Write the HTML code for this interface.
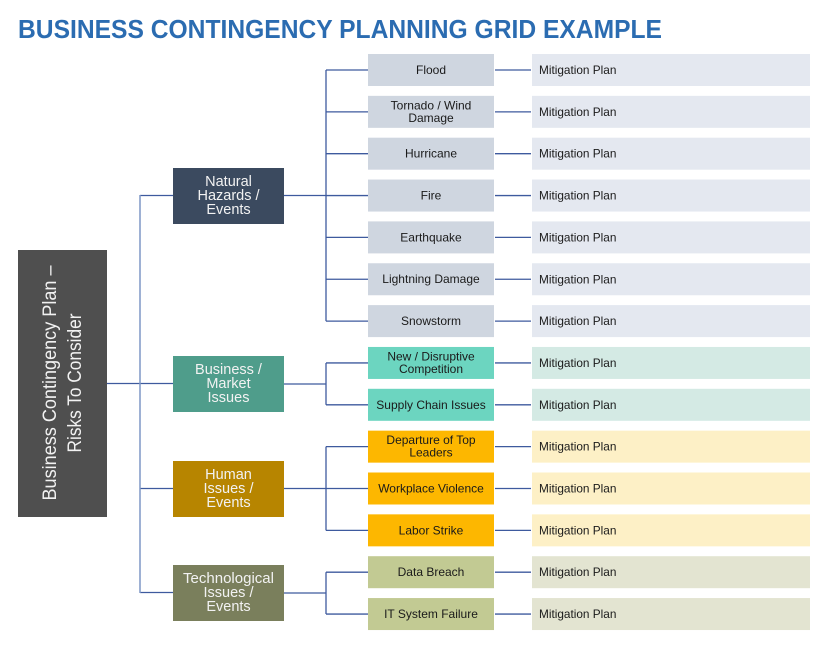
<!DOCTYPE html>
<html><head><meta charset="utf-8">
<style>
html,body{margin:0;padding:0;background:#fff;}
svg{display:block;}
text{font-family:"Liberation Sans",sans-serif;}
</style></head>
<body>
<svg width="831" height="656" viewBox="0 0 831 656" xmlns="http://www.w3.org/2000/svg">
<rect width="831" height="656" fill="#fff"/>
<text x="18" y="38" font-size="26" font-weight="bold" fill="#2b6cb1" textLength="644" lengthAdjust="spacingAndGlyphs">BUSINESS CONTINGENCY PLANNING GRID EXAMPLE</text>

<!-- root -->
<rect x="18" y="250" width="89" height="267" fill="#4f4f4f"/>
<text transform="translate(56,383) rotate(-90)" text-anchor="middle" font-size="19" fill="#f2f2f2" textLength="235" lengthAdjust="spacingAndGlyphs">Business Contingency Plan –</text>
<text transform="translate(81,383) rotate(-90)" text-anchor="middle" font-size="19" fill="#f2f2f2" textLength="139" lengthAdjust="spacingAndGlyphs">Risks To Consider</text>

<!-- root connectors -->
<g stroke="#3e5a9e" stroke-width="1.3" fill="none">
<line x1="107" y1="383.5" x2="173" y2="383.5"/>
<line x1="140" y1="195.5" x2="173" y2="195.5"/>
<line x1="140" y1="488.5" x2="173" y2="488.5"/>
<line x1="140" y1="592.5" x2="173" y2="592.5"/>
</g>
<line x1="140" y1="195" x2="140" y2="593" stroke="#7f97c6" stroke-width="1.5"/>

<!-- categories -->
<rect x="173" y="168" width="111" height="56" fill="#3b4a5f"/>
<g font-size="14.5" fill="#f2f2f2" text-anchor="middle">
<text x="228.5" y="186">Natural</text>
<text x="228.5" y="200">Hazards /</text>
<text x="228.5" y="214">Events</text>
</g>
<rect x="173" y="356" width="111" height="56" fill="#4f9d8b"/>
<g font-size="14.5" fill="#f2f2f2" text-anchor="middle">
<text x="228.5" y="374">Business /</text>
<text x="228.5" y="388">Market</text>
<text x="228.5" y="402">Issues</text>
</g>
<rect x="173" y="461" width="111" height="56" fill="#b78500"/>
<g font-size="14.5" fill="#f2f2f2" text-anchor="middle">
<text x="228.5" y="479">Human</text>
<text x="228.5" y="493">Issues /</text>
<text x="228.5" y="507">Events</text>
</g>
<rect x="173" y="565" width="111" height="56" fill="#7a7f5c"/>
<g font-size="14.5" fill="#f2f2f2" text-anchor="middle">
<text x="228.5" y="583" textLength="91" lengthAdjust="spacingAndGlyphs">Technological</text>
<text x="228.5" y="597">Issues /</text>
<text x="228.5" y="611">Events</text>
</g>

<!-- category to risk connectors -->
<g stroke="#3e5a9e" stroke-width="1.3" fill="none">
<line x1="284" y1="195.5" x2="326" y2="195.5"/>
<line x1="326" y1="70" x2="326" y2="321.1"/>
<line x1="284" y1="384" x2="326" y2="384"/>
<line x1="326" y1="363" x2="326" y2="404.8"/>
<line x1="284" y1="488.5" x2="326" y2="488.5"/>
<line x1="326" y1="446.6" x2="326" y2="530.4"/>
<line x1="284" y1="593" x2="326" y2="593"/>
<line x1="326" y1="572.2" x2="326" y2="614"/>

<line x1="326" y1="70" x2="368" y2="70"/>
<line x1="326" y1="111.85" x2="368" y2="111.85"/>
<line x1="326" y1="153.7" x2="368" y2="153.7"/>
<line x1="326" y1="195.55" x2="368" y2="195.55"/>
<line x1="326" y1="237.4" x2="368" y2="237.4"/>
<line x1="326" y1="279.25" x2="368" y2="279.25"/>
<line x1="326" y1="321.1" x2="368" y2="321.1"/>
<line x1="326" y1="362.95" x2="368" y2="362.95"/>
<line x1="326" y1="404.8" x2="368" y2="404.8"/>
<line x1="326" y1="446.65" x2="368" y2="446.65"/>
<line x1="326" y1="488.5" x2="368" y2="488.5"/>
<line x1="326" y1="530.35" x2="368" y2="530.35"/>
<line x1="326" y1="572.2" x2="368" y2="572.2"/>
<line x1="326" y1="614.05" x2="368" y2="614.05"/>

<line x1="495" y1="70" x2="531" y2="70"/>
<line x1="495" y1="111.85" x2="531" y2="111.85"/>
<line x1="495" y1="153.7" x2="531" y2="153.7"/>
<line x1="495" y1="195.55" x2="531" y2="195.55"/>
<line x1="495" y1="237.4" x2="531" y2="237.4"/>
<line x1="495" y1="279.25" x2="531" y2="279.25"/>
<line x1="495" y1="321.1" x2="531" y2="321.1"/>
<line x1="495" y1="362.95" x2="531" y2="362.95"/>
<line x1="495" y1="404.8" x2="531" y2="404.8"/>
<line x1="495" y1="446.65" x2="531" y2="446.65"/>
<line x1="495" y1="488.5" x2="531" y2="488.5"/>
<line x1="495" y1="530.35" x2="531" y2="530.35"/>
<line x1="495" y1="572.2" x2="531" y2="572.2"/>
<line x1="495" y1="614.05" x2="531" y2="614.05"/>
</g>

<!-- risk boxes -->
<g>
<rect x="368" y="54" width="126" height="32" fill="#cfd6e0"/>
<rect x="368" y="95.85" width="126" height="32" fill="#cfd6e0"/>
<rect x="368" y="137.7" width="126" height="32" fill="#cfd6e0"/>
<rect x="368" y="179.55" width="126" height="32" fill="#cfd6e0"/>
<rect x="368" y="221.4" width="126" height="32" fill="#cfd6e0"/>
<rect x="368" y="263.25" width="126" height="32" fill="#cfd6e0"/>
<rect x="368" y="305.1" width="126" height="32" fill="#cfd6e0"/>
<rect x="368" y="346.95" width="126" height="32" fill="#6cd5c0"/>
<rect x="368" y="388.8" width="126" height="32" fill="#6cd5c0"/>
<rect x="368" y="430.65" width="126" height="32" fill="#fdb700"/>
<rect x="368" y="472.5" width="126" height="32" fill="#fdb700"/>
<rect x="368" y="514.35" width="126" height="32" fill="#fdb700"/>
<rect x="368" y="556.2" width="126" height="32" fill="#c2ca93"/>
<rect x="368" y="598.05" width="126" height="32" fill="#c2ca93"/>
</g>
<!-- mitigation boxes -->
<g>
<rect x="532" y="54" width="278" height="32" fill="#e4e8f0"/>
<rect x="532" y="95.85" width="278" height="32" fill="#e4e8f0"/>
<rect x="532" y="137.7" width="278" height="32" fill="#e4e8f0"/>
<rect x="532" y="179.55" width="278" height="32" fill="#e4e8f0"/>
<rect x="532" y="221.4" width="278" height="32" fill="#e4e8f0"/>
<rect x="532" y="263.25" width="278" height="32" fill="#e4e8f0"/>
<rect x="532" y="305.1" width="278" height="32" fill="#e4e8f0"/>
<rect x="532" y="346.95" width="278" height="32" fill="#d4eae4"/>
<rect x="532" y="388.8" width="278" height="32" fill="#d4eae4"/>
<rect x="532" y="430.65" width="278" height="32" fill="#fdf0c6"/>
<rect x="532" y="472.5" width="278" height="32" fill="#fdf0c6"/>
<rect x="532" y="514.35" width="278" height="32" fill="#fdf0c6"/>
<rect x="532" y="556.2" width="278" height="32" fill="#e3e4d1"/>
<rect x="532" y="598.05" width="278" height="32" fill="#e3e4d1"/>
</g>

<!-- risk labels -->
<g font-size="12" fill="#1a1a1a" text-anchor="middle">
<text x="431" y="74">Flood</text>
<text x="431" y="109.3">Tornado / Wind</text>
<text x="431" y="121.8">Damage</text>
<text x="431" y="157.7">Hurricane</text>
<text x="431" y="199.5">Fire</text>
<text x="431" y="241.4">Earthquake</text>
<text x="431" y="283.2">Lightning Damage</text>
<text x="431" y="325.1">Snowstorm</text>
<text x="431" y="360.4">New / Disruptive</text>
<text x="431" y="372.9">Competition</text>
<text x="431" y="408.8">Supply Chain Issues</text>
<text x="431" y="444.1">Departure of Top</text>
<text x="431" y="456.6">Leaders</text>
<text x="431" y="492.5">Workplace Violence</text>
<text x="431" y="534.3">Labor Strike</text>
<text x="431" y="576.2">Data Breach</text>
<text x="431" y="618">IT System Failure</text>
</g>
<!-- mitigation labels -->
<g font-size="11.8" fill="#1a1a1a">
<text x="539" y="74">Mitigation Plan</text>
<text x="539" y="115.85">Mitigation Plan</text>
<text x="539" y="157.7">Mitigation Plan</text>
<text x="539" y="199.55">Mitigation Plan</text>
<text x="539" y="241.4">Mitigation Plan</text>
<text x="539" y="283.25">Mitigation Plan</text>
<text x="539" y="325.1">Mitigation Plan</text>
<text x="539" y="366.95">Mitigation Plan</text>
<text x="539" y="408.8">Mitigation Plan</text>
<text x="539" y="450.65">Mitigation Plan</text>
<text x="539" y="492.5">Mitigation Plan</text>
<text x="539" y="534.35">Mitigation Plan</text>
<text x="539" y="576.2">Mitigation Plan</text>
<text x="539" y="618.05">Mitigation Plan</text>
</g>
</svg>
</body></html>
